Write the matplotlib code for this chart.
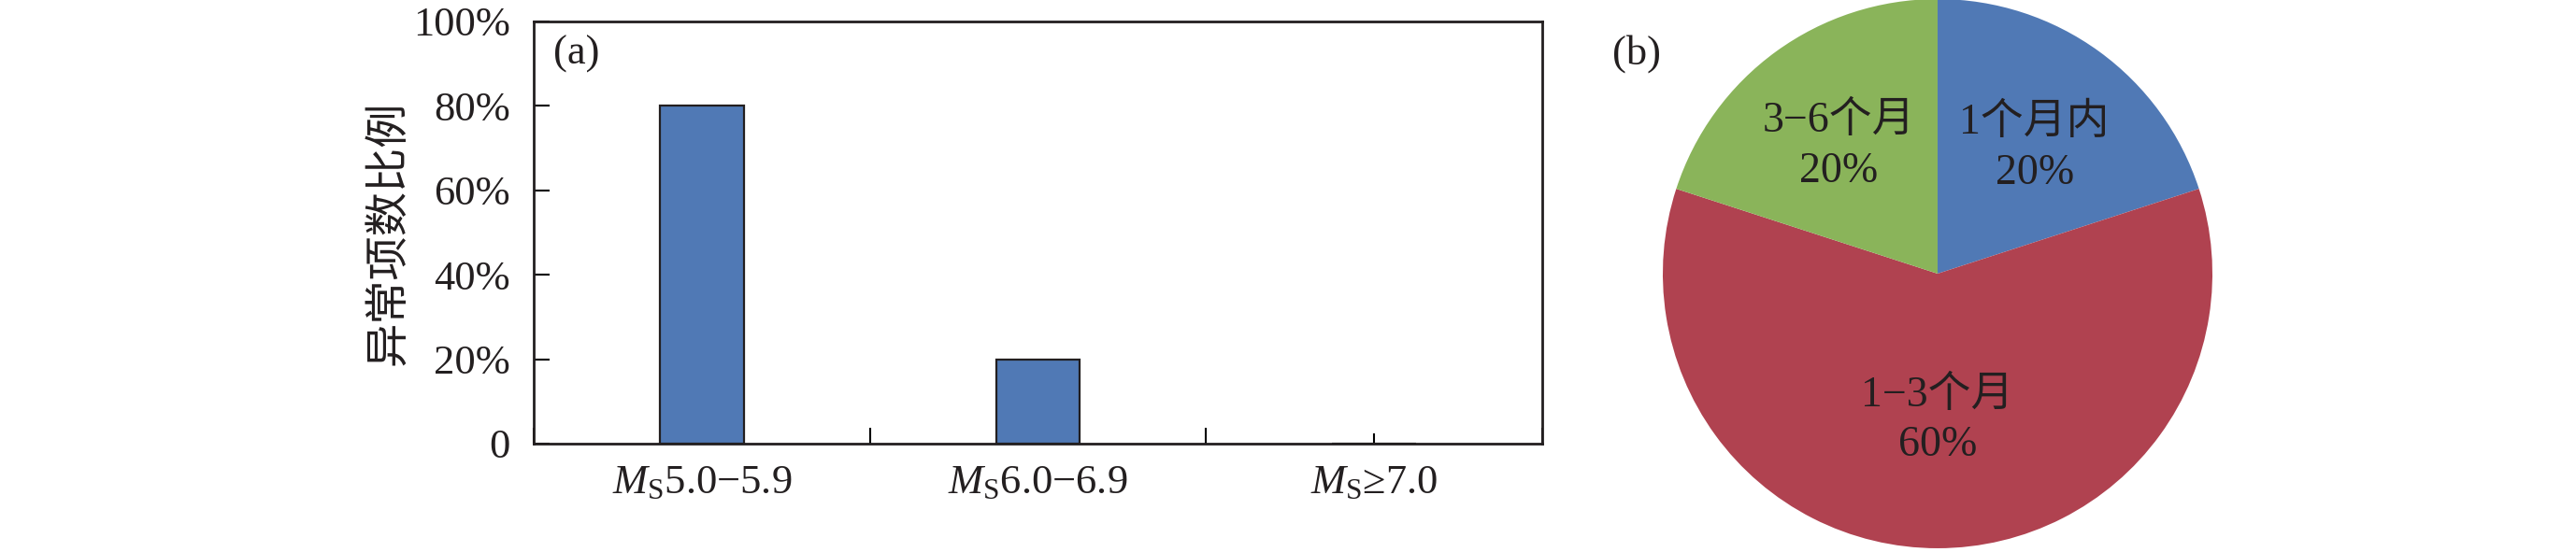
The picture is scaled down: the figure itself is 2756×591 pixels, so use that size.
import numpy as np
import matplotlib
matplotlib.use('Agg')
import matplotlib.pyplot as plt

plt.rcParams['font.family'] = ['Liberation Serif', 'Noto Sans CJK SC', 'DejaVu Sans']
plt.rcParams['mathtext.fontset'] = 'custom'
plt.rcParams['mathtext.rm'] = 'Liberation Serif'
plt.rcParams['mathtext.it'] = 'Liberation Serif:italic'

# (a) share of anomalies by magnitude class
mag_labels = [r'$M_{\rm S}$5.0−5.9', r'$M_{\rm S}$6.0−6.9', r'$M_{\rm S}$≥7.0']
mag_share = [80, 20, 0]
y_ticks = [0, 20, 40, 60, 80, 100]
y_ticklabels = ['0', '20%', '40%', '60%', '80%', '100%']

# (b) time before the quake
period_labels = ['1个月内', '1−3个月', '3−6个月']
period_share = [20, 60, 20]
period_colors = ['#5079B5', '#B04250', '#8AB45A']
label_dist = [0.6, 0.505, 0.61]

txt_color = '#231F20'
fs = 32

fig = plt.figure(figsize=(27.56, 5.91), dpi=100)

ax = fig.add_axes([571 / 2756, 1 - 475 / 591, 1079 / 2756, 452 / 591])
x = np.arange(len(mag_labels))
ax.bar(x, mag_share, width=0.25, color='#5079B5', edgecolor='#231F20', linewidth=1.6, zorder=2)
ax.set_xlim(-0.5, len(mag_labels) - 0.5)
ax.set_ylim(0, 100)
ax.set_yticks(y_ticks)
ax.set_yticklabels(y_ticklabels, fontsize=fs, color=txt_color)
ax.set_xticks(np.arange(len(mag_labels) + 1) - 0.5)
ax.set_xticklabels([])
ax.set_xticks(x, minor=True)
ax.set_xticklabels(mag_labels, minor=True, fontsize=fs, color=txt_color)
ax.tick_params(axis='y', direction='in', length=12, width=1.5, pad=18)
ax.tick_params(axis='x', which='major', direction='in', length=12, width=1.5)
ax.tick_params(axis='x', which='minor', direction='in', length=8, width=1.5, pad=16)
for s in ax.spines.values():
    s.set_linewidth(2)
    s.set_color('#231F20')
ax.set_ylabel('异常项数比例', family=['Noto Sans CJK SC'], fontsize=34, color=txt_color, labelpad=2)
fig.text(592 / 2756, 1 - 58 / 591, '(a)', fontsize=fs, color=txt_color, va='center', ha='left')

ax2 = fig.add_axes([0.6455, 0.0068, 588 / 2756, 588 / 591])
wedges, _ = ax2.pie(period_share, colors=period_colors, startangle=90, counterclock=False,
                    radius=1, wedgeprops=dict(linewidth=0))
for w, lab, val, d in zip(wedges, period_labels, period_share, label_dist):
    ang = np.deg2rad((w.theta1 + w.theta2) / 2)
    ax2.text(d * np.cos(ang), d * np.sin(ang) - 0.03, f'{lab}\n{val}%', ha='center', va='center',
             fontsize=33, color=txt_color, linespacing=1.35)
ax2.set_xlim(-1, 1)
ax2.set_ylim(-1, 1)
ax2.set_aspect('equal')
ax2.axis('off')
fig.text(1725 / 2756, 1 - 58 / 591, '(b)', fontsize=fs, color=txt_color, va='center', ha='left')

fig.savefig('out.png', dpi=100)
